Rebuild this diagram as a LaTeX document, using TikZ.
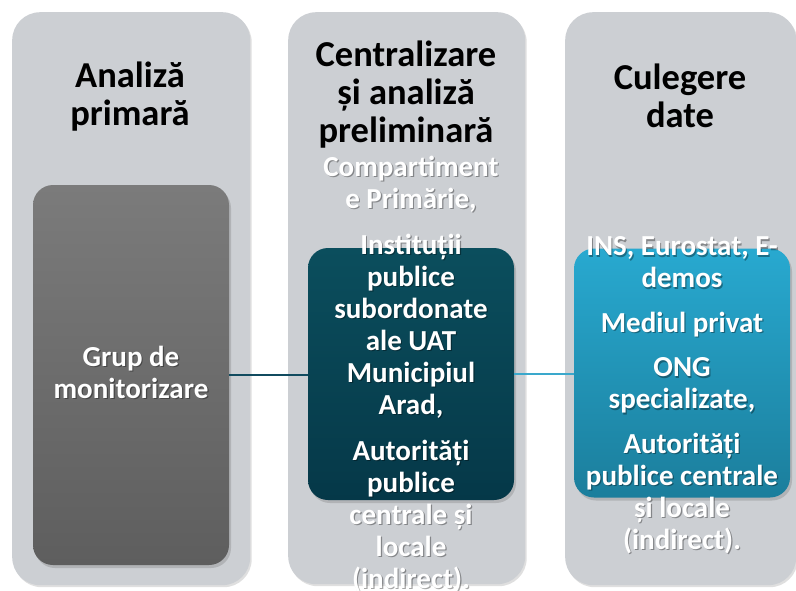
\documentclass[tikz,border=0pt]{standalone}
\usepackage{fontspec}
\setmainfont{Carlito}
\usetikzlibrary{shadows}
\definecolor{colgray}{RGB}{204,207,211}
\definecolor{g1top}{RGB}{123,123,123}
\definecolor{g1bot}{RGB}{94,94,94}
\definecolor{t2top}{RGB}{11,78,93}
\definecolor{t2bot}{RGB}{5,56,72}
\definecolor{b3top}{RGB}{40,169,208}
\definecolor{b3bot}{RGB}{27,126,156}
\definecolor{line1}{RGB}{17,75,95}
\definecolor{line2}{RGB}{58,168,204}
\newcommand\shd[1]{\leavevmode\rlap{\kern1.2pt\raisebox{-1.5pt}{\pgfsetfillopacity{0.35}\color{black}#1\pgfsetfillopacity{1}}}#1}
\begin{document}
\begin{tikzpicture}[x=1pt,y=-1pt,
  column/.style={fill=colgray, rounded corners=28pt, inner sep=0pt,
    drop shadow={shadow xshift=1.5pt, shadow yshift=-2pt, opacity=0.25}},
  innerbox/.style={rounded corners=20pt, inner sep=0pt,
    drop shadow={shadow xshift=2pt, shadow yshift=-3pt, opacity=0.35}},
  header/.style={font=\bfseries\fontsize{36.5}{38}\selectfont, text=black, align=center, inner sep=0pt, anchor=base},
  bodytext/.style={font=\bfseries\fontsize{29}{32}\selectfont, text=white, align=center, inner sep=0pt, anchor=base},
  conn/.style={line width=2pt}
]
\useasboundingbox (0,0) rectangle (796,590);
\fill[white] (0,0) rectangle (796,590);
% columns
\node[column, anchor=north west, minimum width=238pt, minimum height=573pt] (col1) at (12,12) {};
\node[column, anchor=north west, minimum width=237pt, minimum height=572pt] (col2) at (288,12) {};
\node[column, anchor=north west, minimum width=231pt, minimum height=573pt] (col3) at (565,12) {};
% inner boxes
\node[innerbox, top color=g1top, bottom color=g1bot, minimum width=196pt, minimum height=380pt] (box1) at (131,375) {};
\node[innerbox, top color=t2top, bottom color=t2bot, minimum width=206pt, minimum height=252pt] (box2) at (411,374) {};
\node[innerbox, top color=b3top, bottom color=b3bot, minimum width=216pt, minimum height=249pt] (box3) at (682,373) {};
% connectors
\draw[conn, line1] (box1.east) -- (box1.east -| box2.west);
\draw[conn, line2] (box2.east) -- (box2.east -| box3.west);
% headers
\node[header] (h1) at (130,125) {Analiză\\primară};
\node[header] (h2) at (406,142) {Centralizare\\și analiză\\preliminară};
\node[header] (h3) at (680,127) {Culegere\\date};
% body texts
\node[bodytext] (t1) at (131,398) {\shd{Grup de}\\\shd{monitorizare}};
\node[bodytext] (t2) at (411,588) {\shd{Compartiment}\\\shd{e Primărie,}\\[14pt]\shd{Instituții}\\\shd{publice}\\\shd{subordonate}\\\shd{ale UAT}\\\shd{Municipiul}\\\shd{Arad,}\\[14pt]\shd{Autorități}\\\shd{publice}\\\shd{centrale și}\\\shd{locale}\\\shd{(indirect).}};
\node[bodytext] (t3) at (682,549) {\shd{INS, Eurostat, E-}\\\shd{demos}\\[12.5pt]\shd{Mediul privat}\\[12.5pt]\shd{ONG}\\\shd{specializate,}\\[12.5pt]\shd{Autorități}\\\shd{publice centrale}\\\shd{și locale}\\\shd{(indirect).}};
\end{tikzpicture}
\end{document}
